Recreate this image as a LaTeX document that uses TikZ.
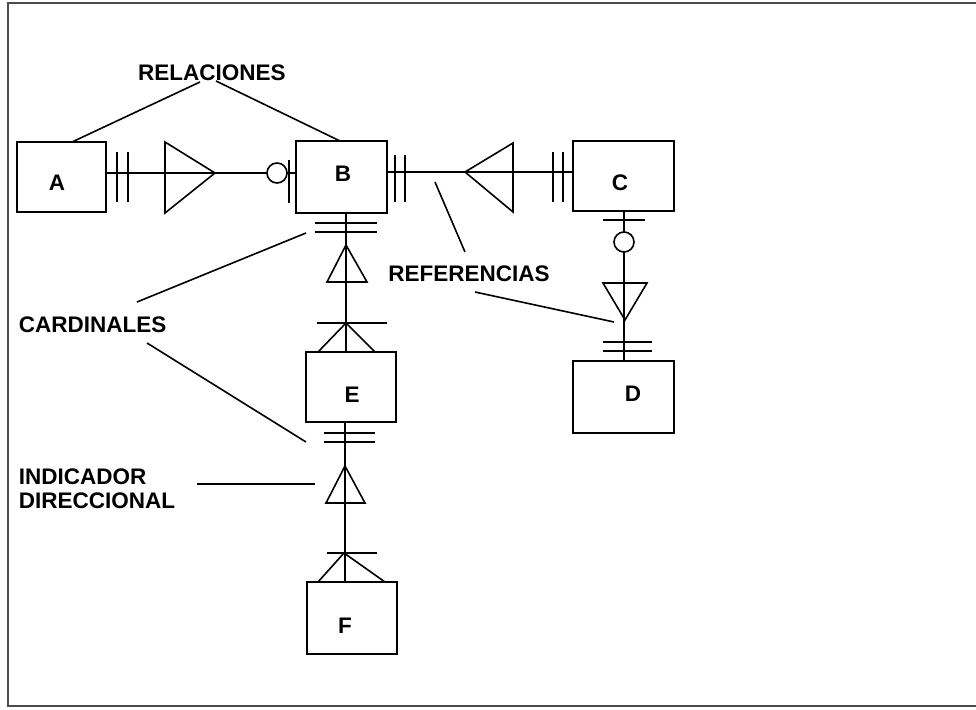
\documentclass[tikz,border=0pt]{standalone}
\usepackage{fontspec}
\setmainfont{Liberation Sans}
\begin{document}
\begin{tikzpicture}[x=1pt,y=-1pt,line width=1.6pt,
  ent/.style={draw,rectangle,inner sep=0pt},
  lbl/.style={font=\fontsize{22.5}{27}\selectfont\bfseries,inner sep=0pt},
  bar/.style={line width=1.5pt},
  frame/.style={line width=1.2pt,black!70}]
\useasboundingbox (0,0) rectangle (976,709);
% frame
\draw[frame] (976,3) -- (8,3) -- (8,706) -- (976,706);
% entities
\node[ent,minimum width=89pt,minimum height=70pt] (A) at (61.5,177) {};
\node[ent,minimum width=91pt,minimum height=72pt] (B) at (341.5,177) {};
\node[ent,minimum width=101pt,minimum height=70pt] (C) at (623.5,176) {};
\node[ent,minimum width=101pt,minimum height=72pt] (D) at (623.5,397) {};
\node[ent,minimum width=90pt,minimum height=70pt] (E) at (351,387) {};
\node[ent,minimum width=90pt,minimum height=72pt] (F) at (352,618) {};
\node[lbl] (Al) at (57,183) {A};
\node[lbl] (Bl) at (343,174) {B};
\node[lbl] (Cl) at (620,183) {C};
\node[lbl] (Dl) at (633,394) {D};
\node[lbl] (El) at (352,395) {E};
\node[lbl] (Fl) at (345,626) {F};
% connectors
\coordinate (ab1) at (106,173); \coordinate (ab2) at (296,173);
\draw (ab1) -- (ab2);
\coordinate (bc1) at (387,172); \coordinate (bc2) at (573,172);
\draw (bc1) -- (bc2);
\coordinate (be1) at (346,213); \coordinate (be2) at (346,352);
\draw (be1) -- (be2);
\coordinate (ef1) at (345,422); \coordinate (ef2) at (345,582);
\draw (ef1) -- (ef2);
\coordinate (cd1) at (624,211); \coordinate (cd2) at (624,361);
\draw (cd1) -- (cd2);
% A-B symbols
\draw[bar] (117,152) -- (117,202) (128,152) -- (128,202);
\draw (165,142) -- (165,213) -- (215,173) -- cycle;
\draw[fill=white] (277,173) circle (10);
\draw[bar] (289,160) -- (289,203);
% B-C symbols
\draw[bar] (395,155) -- (395,202) (405,155) -- (405,202);
\draw (513,143) -- (513,212) -- (465,172) -- cycle;
\draw[bar] (553,152) -- (553,202) (563,152) -- (563,202);
% C-D symbols
\draw[bar] (603,220) -- (645,220);
\draw[fill=white] (624,242) circle (10);
\draw (603,283) -- (647,283) -- (625,320) -- cycle;
\draw[bar] (603,342) -- (652,342) (603,351) -- (652,351);
% B-E symbols
\draw[bar] (315,223) -- (377,223) (315,232) -- (377,232);
\draw (346,245) -- (327,282) -- (367,282) -- cycle;
\draw[bar] (317,323) -- (387,323);
\draw (318,352) -- (346,323) -- (375,352);
% E-F symbols
\draw[bar] (324,433) -- (375,433) (324,442) -- (375,442);
\draw (345,466) -- (326,503) -- (365,503) -- cycle;
\draw[bar] (327,553) -- (377,553);
\draw (318,582) -- (344,553) -- (385,582);
% annotations
\node[lbl] (rel) at (212,73) {RELACIONES};
\draw (200,82) -- (72,142);
\draw (216,81) -- (340,141);
\node[lbl] (ref) at (469,274) {REFERENCIAS};
\draw (465,252) -- (435,182);
\draw (475,292) -- (614,322);
\node[lbl,anchor=west] (card) at (18,325) {CARDINALES};
\draw (137,302) -- (306,233);
\draw (147,343) -- (306,442);
\node[lbl,anchor=west] (ind) at (18,477) {INDICADOR};
\node[lbl,anchor=west] (dir) at (18,501) {DIRECCIONAL};
\draw (197,484) -- (315,484);
\end{tikzpicture}
\end{document}
